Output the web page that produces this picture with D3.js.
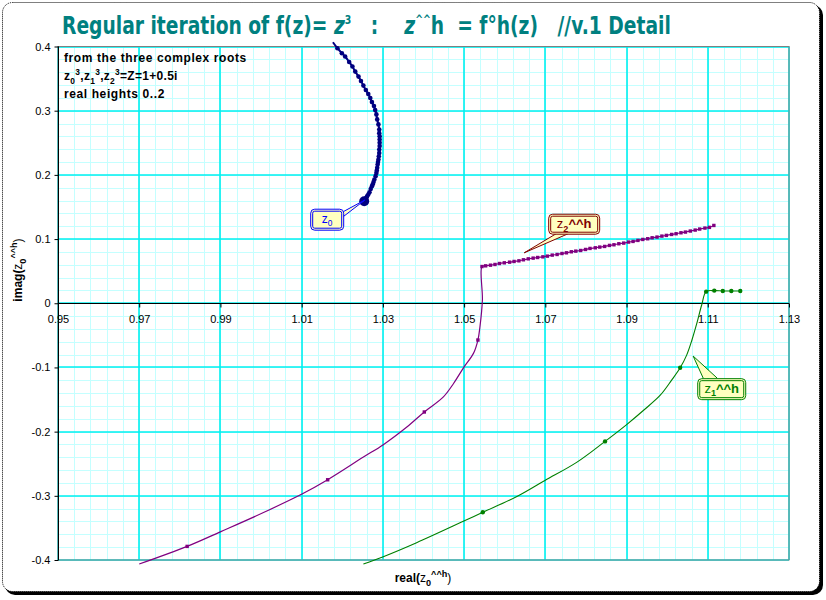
<!DOCTYPE html>
<html>
<head>
  <meta charset="UTF-8">
  <script src="https://d3js.org/d3.v7.js"></script>
  <style>
    body { margin: 0; background: #fff; }
    svg { font-family: "Liberation Sans", Arial, sans-serif; }
  </style>
</head>
<body>
  <div id="chart"></div>

  <script>
    // data

    const xTicks = [0.95, 0.97, 0.99, 1.01, 1.03, 1.05, 1.07, 1.09, 1.11, 1.13];
    const xTickLabels = ['0.95', '0.97', '0.99', '1.01', '1.03', '1.05', '1.07', '1.09', '1.11', '1.13'];
    const yTicks = [-0.4, -0.3, -0.2, -0.1, 0, 0.1, 0.2, 0.3, 0.4];
    const yTickLabels = ['-0.4', '-0.3', '-0.2', '-0.1', '0', '0.1', '0.2', '0.3', '0.4'];

    // [real, imag, marker] ; marker 0 = none, 1 = small, 2 = large end point
    const z0Points = [
      [1.0177, 0.4066, 0], [1.0188, 0.3973, 1], [1.0199, 0.3895, 1], [1.0207, 0.3844, 1],
      [1.0217, 0.3759, 1], [1.0225, 0.3688, 1], [1.0232, 0.3609, 1], [1.0240, 0.3531, 1],
      [1.0246, 0.3463, 1], [1.0252, 0.3391, 1], [1.0258, 0.3322, 1], [1.0264, 0.3259, 1],
      [1.0269, 0.3197, 1], [1.0273, 0.3134, 1], [1.0278, 0.3072, 1], [1.0281, 0.3009, 1],
      [1.0284, 0.2942, 1], [1.0286, 0.2864, 1], [1.0289, 0.2786, 1], [1.0291, 0.2708, 1],
      [1.0291, 0.2650, 1], [1.0292, 0.2600, 1], [1.0292, 0.2550, 1], [1.0292, 0.2500, 1],
      [1.0292, 0.2450, 1], [1.0291, 0.2395, 1], [1.0291, 0.2340, 1], [1.0290, 0.2291, 1],
      [1.0289, 0.2240, 1], [1.0288, 0.2200, 1], [1.0287, 0.2161, 1], [1.0286, 0.2110, 1],
      [1.0285, 0.2070, 1], [1.0284, 0.2031, 1], [1.0282, 0.1980, 1], [1.0279, 0.1927, 1],
      [1.0277, 0.1890, 1], [1.0275, 0.1855, 1], [1.0273, 0.1822, 1], [1.0270, 0.1780, 1],
      [1.0267, 0.1728, 1], [1.0264, 0.1695, 1], [1.0261, 0.1665, 1], [1.0259, 0.1641, 1],
      [1.0257, 0.1620, 1], [1.0255, 0.1600, 1], [1.0254, 0.1588, 2]
    ];

    const z1Points = [
      [1.0252, -0.4063, 0], [1.0301, -0.3948, 0], [1.0383, -0.3730, 0], [1.0498, -0.3397, 0],
      [1.0546, -0.3256, 1], [1.0630, -0.3011, 0], [1.0699, -0.2761, 0], [1.0778, -0.2475, 0],
      [1.0847, -0.2152, 1], [1.0901, -0.1886, 0], [1.0942, -0.1667, 0], [1.0983, -0.1433, 0],
      [1.1011, -0.1198, 0], [1.1032, -0.1006, 1], [1.1048, -0.0808, 0], [1.1061, -0.0573, 0],
      [1.1073, -0.0313, 0], [1.1085, -0.0027, 0], [1.1096, 0.0181, 1], [1.1116, 0.0197, 1],
      [1.1137, 0.0192, 1], [1.1158, 0.0192, 1], [1.1180, 0.0192, 1]
    ];

    const z2Points = [
      [0.9700, -0.4063, 0], [0.9818, -0.3788, 1], [0.9901, -0.3558, 0], [1.0006, -0.3261, 0],
      [1.0102, -0.2969, 0], [1.0164, -0.2750, 1], [1.0252, -0.2397, 0], [1.0301, -0.2203, 0],
      [1.0359, -0.1928, 0], [1.0402, -0.1694, 1], [1.0449, -0.1459, 0], [1.0474, -0.1250, 0],
      [1.0500, -0.0991, 0], [1.0523, -0.0781, 0], [1.0534, -0.0573, 1], [1.0539, -0.0366, 0],
      [1.0545, 0.0052, 0],
      [1.0544, 0.0572, 1], [1.0553, 0.0583, 1], [1.0565, 0.0593, 1], [1.0576, 0.0604, 1],
      [1.0587, 0.0619, 1], [1.0599, 0.0630, 1], [1.0612, 0.0640, 1], [1.0623, 0.0651, 1],
      [1.0635, 0.0661, 1], [1.0646, 0.0677, 1], [1.0658, 0.0692, 1], [1.0670, 0.0703, 1],
      [1.0681, 0.0713, 1], [1.0694, 0.0723, 1], [1.0705, 0.0734, 1], [1.0717, 0.0750, 1],
      [1.0729, 0.0760, 1], [1.0741, 0.0775, 1], [1.0752, 0.0786, 1], [1.0764, 0.0802, 1],
      [1.0775, 0.0812, 1], [1.0787, 0.0822, 1], [1.0799, 0.0838, 1], [1.0810, 0.0854, 1],
      [1.0823, 0.0864, 1], [1.0834, 0.0875, 1], [1.0846, 0.0885, 1], [1.0858, 0.0901, 1],
      [1.0869, 0.0911, 1], [1.0881, 0.0927, 1], [1.0893, 0.0937, 1], [1.0905, 0.0953, 1],
      [1.0916, 0.0963, 1], [1.0928, 0.0979, 1], [1.0940, 0.0994, 1], [1.0952, 0.1005, 1],
      [1.0963, 0.1020, 1], [1.0975, 0.1031, 1], [1.0987, 0.1046, 1], [1.0998, 0.1057, 1],
      [1.1011, 0.1072, 1], [1.1022, 0.1083, 1], [1.1034, 0.1098, 1], [1.1045, 0.1109, 1],
      [1.1057, 0.1125, 1], [1.1069, 0.1140, 1], [1.1080, 0.1156, 1], [1.1093, 0.1171, 1],
      [1.1104, 0.1182, 1], [1.1115, 0.1212, 1]
    ];

    // set up

    const W = 826, H = 600;

    const svg = d3.select('#chart')
      .append('svg')
        .attr('width', W)
        .attr('height', H);

    // frame with shadow
    svg.append('rect')
        .attr('x', 5).attr('y', 5)
        .attr('width', 818).attr('height', 590)
        .attr('rx', 10)
        .attr('fill', '#000');
    svg.append('rect')
        .attr('x', 2.5).attr('y', 2.5)
        .attr('width', 817).attr('height', 589)
        .attr('rx', 10)
        .attr('fill', '#fff')
        .attr('stroke', '#000')
        .attr('stroke-dasharray', '1,1');

    // scales

    const x = d3.scaleLinear()
        .domain([0.95, 1.13])
        .range([58, 789]);

    const y = d3.scaleLinear()
        .domain([-0.4, 0.4])
        .range([560, 46.5]);

    // grid

    const grid = svg.append('g');
    const xMinor = d3.range(0, 46).map(i => 0.95 + i * 0.004);
    const yMinor = d3.range(0, 41).map(i => -0.4 + i * 0.02);

    grid.selectAll('.xm').data(xMinor).join('line')
        .attr('x1', d => Math.round(x(d)) + 0.5).attr('x2', d => Math.round(x(d)) + 0.5)
        .attr('y1', y(0.4)).attr('y2', y(-0.4))
        .attr('stroke', '#c4ffff');
    grid.selectAll('.ym').data(yMinor).join('line')
        .attr('y1', d => Math.round(y(d)) + 0.5).attr('y2', d => Math.round(y(d)) + 0.5)
        .attr('x1', x(0.95)).attr('x2', x(1.13))
        .attr('stroke', '#c4ffff');
    grid.selectAll('.xM').data(xTicks).join('line')
        .attr('x1', d => Math.round(x(d))).attr('x2', d => Math.round(x(d)))
        .attr('y1', y(0.4)).attr('y2', y(-0.4))
        .attr('stroke', '#00f0f0')
        .attr('stroke-width', 1.6);
    grid.selectAll('.yM').data(yTicks).join('line')
        .attr('y1', d => Math.round(y(d))).attr('y2', d => Math.round(y(d)))
        .attr('x1', x(0.95)).attr('x2', x(1.13))
        .attr('stroke', '#00f0f0')
        .attr('stroke-width', 1.6);

    // plot border
    svg.append('rect')
        .attr('x', x(0.95)).attr('y', y(0.4))
        .attr('width', x(1.13) - x(0.95))
        .attr('height', y(-0.4) - y(0.4))
        .attr('fill', 'none')
        .attr('stroke', '#808080');

    // axes

    const xAxis = d3.axisBottom(x)
        .tickValues(xTicks)
        .tickFormat((d, i) => xTickLabels[i])
        .tickSize(4)
        .tickPadding(8);
    const yAxis = d3.axisLeft(y)
        .tickValues(yTicks)
        .tickFormat((d, i) => yTickLabels[i])
        .tickSize(4)
        .tickPadding(4);

    svg.append('g')
        .attr('transform', `translate(0,${Math.round(y(0)) + 0.5})`)
        .call(xAxis)
        .call(g => g.select('.domain').attr('d', `M${x(0.95)},0H${x(1.13)}`))
        .call(g => g.selectAll('text').attr('font-size', 11).attr('fill', '#000'));

    svg.append('g')
        .attr('transform', `translate(${x(0.95) + 0.5},0)`)
        .call(yAxis)
        .call(g => g.select('.domain').attr('d', `M0,${y(0.4)}V${y(-0.4)}`))
        .call(g => g.selectAll('text').attr('font-size', 11).attr('fill', '#000'));

    // rich text helper: parts = [text, kind], kind in n, b, i, sub, sup
    function rich(text, parts, size, small = 0.7) {
      let shift = 0;
      parts.forEach(([t, k]) => {
        const ts = text.append('tspan').text(t);
        let want = 0;
        if (k === 'sub') want = size * 0.3;
        if (k === 'sup') want = -size * 0.4;
        if (want !== shift) { ts.attr('dy', want - shift); shift = want; }
        if (k === 'sub' || k === 'sup') ts.attr('font-size', size * small);
        if (k === 'i') ts.attr('font-style', 'italic');
        if (k === 'n') ts.attr('font-weight', 'normal');
      });
      return text;
    }

    // series

    const line = d3.line()
        .curve(d3.curveCatmullRom.alpha(0.5))
        .x(d => x(d[0]))
        .y(d => y(d[1]));

    const series = [
      { key: 'z2', pts: z2Points, color: '#800080', width: 1.2, mark: 'sq', size: 3.4 },
      { key: 'z1', pts: z1Points, color: '#008000', width: 1.1, mark: 'dot', size: 2.2 },
      { key: 'z0', pts: z0Points, color: '#000080', width: 2, mark: 'dot', size: 2.3 }
    ];

    series.forEach(s => {
      const g = svg.append('g');
      g.append('path')
          .datum(s.pts)
          .attr('d', line)
          .attr('fill', 'none')
          .attr('stroke', s.color)
          .attr('stroke-width', s.width);
      const m = s.pts.filter(d => d[2] > 0);
      if (s.mark === 'sq') {
        g.selectAll('rect').data(m.filter(d => d[2] === 1)).join('rect')
            .attr('x', d => x(d[0]) - s.size / 2)
            .attr('y', d => y(d[1]) - s.size / 2)
            .attr('width', s.size).attr('height', s.size)
            .attr('fill', s.color);
      } else {
        g.selectAll('circle.s').data(m.filter(d => d[2] === 1)).join('circle')
            .attr('cx', d => x(d[0])).attr('cy', d => y(d[1]))
            .attr('r', s.size)
            .attr('fill', s.color);
      }
      g.selectAll('circle.big').data(m.filter(d => d[2] === 2)).join('circle')
          .attr('cx', d => x(d[0])).attr('cy', d => y(d[1]))
          .attr('r', 5)
          .attr('fill', s.color);
    });

    // callouts: box top-left and pointer tip in data coords
    const callouts = [
      { bx: 1.0121, by: 0.1473, w: 33, h: 21, tip: [1.0256, 0.1610], base: [[33, 3], [33, 8]],
        color: '#0000ff', text: [['z', 'n'], ['0', 'sub']], size: 12, weight: 'normal' },
      { bx: 1.0707, by: 0.1395, w: 51, h: 20, tip: [1.0648, 0.0786], base: [[8, 20], [20, 20]],
        color: '#800000', text: [['z', 'n'], ['2', 'sub'], ['^^h', 'b']], size: 13, weight: 'bold' },
      { bx: 1.1074, by: -0.1167, w: 48, h: 21, tip: [1.1064, -0.0823], base: [[6, 0], [20, 0]],
        color: '#008000', text: [['z', 'n'], ['1', 'sub'], ['^^h', 'b']], size: 13, weight: 'bold' }
    ];

    callouts.forEach(c => {
      const g = svg.append('g');
      const bx = x(c.bx), by = y(c.by);
      const tx = x(c.tip[0]), ty = y(c.tip[1]);
      const p1 = [bx + c.base[0][0], by + c.base[0][1]];
      const p2 = [bx + c.base[1][0], by + c.base[1][1]];
      g.append('path')
          .attr('d', `M${p1}L${tx},${ty}L${p2}`)
          .attr('fill', '#ffffc0')
          .attr('stroke', c.color)
          .attr('stroke-width', 1);
      g.append('rect')
          .attr('x', bx + 0.5).attr('y', by + 0.5)
          .attr('width', c.w).attr('height', c.h)
          .attr('rx', 4)
          .attr('fill', '#ffffc0')
          .attr('stroke', c.color);
      g.append('rect')
          .attr('x', bx + 2.5).attr('y', by + 2.5)
          .attr('width', c.w - 4).attr('height', c.h - 4)
          .attr('rx', 2)
          .attr('fill', '#ffffc0')
          .attr('stroke', c.color);
      const t = g.append('text')
          .attr('x', bx + c.w / 2 + 0.5)
          .attr('y', by + c.h / 2 + c.size * 0.3)
          .attr('text-anchor', 'middle')
          .attr('font-size', c.size)
          .attr('font-weight', c.weight)
          .attr('fill', c.color);
      rich(t, c.text, c.size);
    });

    // notes in plot
    svg.append('text')
        .attr('x', 64).attr('y', 62)
        .attr('font-size', 12)
        .attr('font-weight', 'bold')
        .attr('letter-spacing', 0.6)
        .text('from the three complex roots');
    const n2 = svg.append('text')
        .attr('x', 64).attr('y', 80)
        .attr('font-size', 12)
        .attr('font-weight', 'bold')
        .attr('letter-spacing', 0.3);
    rich(n2, [['z', 'b'], ['0', 'sub'], ['3', 'sup'], [',z', 'b'], ['1', 'sub'], ['3', 'sup'],
              [',z', 'b'], ['2', 'sub'], ['3', 'sup'], ['=Z=1+0.5i', 'b']], 12);
    svg.append('text')
        .attr('x', 64).attr('y', 98)
        .attr('font-size', 12)
        .attr('font-weight', 'bold')
        .attr('letter-spacing', 0.6)
        .text('real heights 0..2');

    // axis titles
    const xt = svg.append('text')
        .attr('x', 423).attr('y', 582)
        .attr('text-anchor', 'middle')
        .attr('font-size', 12)
        .attr('font-weight', 'bold');
    rich(xt, [['real(', 'b'], ['z', 'n'], ['0', 'sub'], ['^^h', 'sup'], [')', 'n']], 13);

    const yt = svg.append('text')
        .attr('transform', 'translate(22,270) rotate(-90)')
        .attr('text-anchor', 'middle')
        .attr('font-size', 12)
        .attr('font-weight', 'bold');
    rich(yt, [['imag(', 'b'], ['z', 'n'], ['0', 'sub'], ['^^h', 'sup'], [')', 'n']], 13);

    // title
    const title = svg.append('text')
        .attr('x', 0).attr('y', 0)
        .attr('font-family', '"Liberation Sans Narrow", "DejaVu Sans Condensed", sans-serif')
        .attr('font-size', 24)
        .attr('font-weight', 'bold')
        .attr('fill', '#008080')
        .style('white-space', 'pre');
    rich(title, [['Regular iteration of f(z)= ', 'b'], ['z', 'i'], ['3', 'sup'],
                 ['   :    ', 'b'], ['z', 'i'], ['^^', 'sup'], ['h  = f°h(z)   //v.1 Detail', 'b']], 24, 0.5);
    const tw = title.node().getBBox().width;
    title.attr('transform', `translate(62,34) scale(${609 / tw},1)`);
  </script>
</body>
</html>
